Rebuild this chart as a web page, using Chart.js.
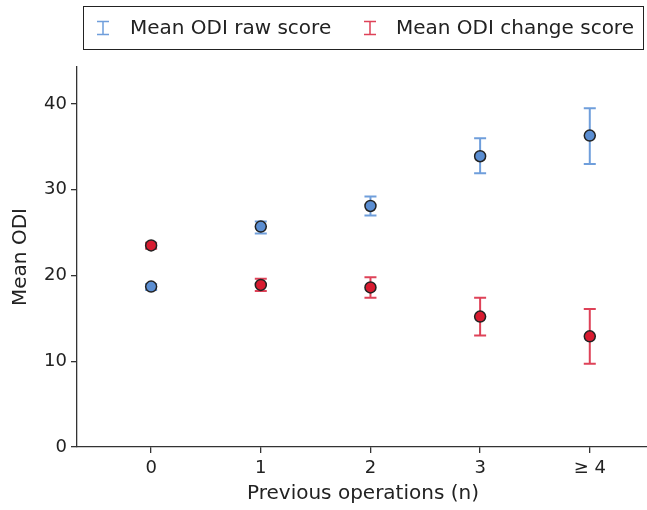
<!DOCTYPE html>
<html>
<head>
<meta charset="utf-8">
<script src="https://cdn.jsdelivr.net/npm/chart.js@4.4.0/dist/chart.umd.min.js"></script>
<style>
  body { margin: 0; background: #fff; overflow: hidden; }
  #wrap { position: relative; width: 647px; height: 510px; overflow: hidden; }
  #legend {
    position: absolute; left: 83px; top: 6px; width: 561px; height: 44px;
    border: 1.5px solid #222; box-sizing: border-box;
    font-family: "DejaVu Sans", sans-serif; font-size: 20px; color: #222;
  }
  #legend span.item { position: absolute; top: 8px; white-space: nowrap; }
  #legend canvas { position: absolute; top: 13px; }
</style>
</head>
<body>
<div id="wrap">
  <canvas id="myChart" width="656" height="510"></canvas>
  <div id="legend">
    <canvas id="icoRaw" width="14" height="16" style="left:12px"></canvas>
    <span class="item" style="left:46px">Mean ODI raw score</span>
    <canvas id="icoChange" width="14" height="16" style="left:279px"></canvas>
    <span class="item" style="left:312px">Mean ODI change score</span>
  </div>
</div>
<script>
const categories = ['0', '1', '2', '3', '\u2265 4'];

const rawMean = [18.7, 25.7, 28.1, 33.9, 36.3];
const rawLow = [18.3, 24.9, 27.0, 31.9, 33.0];
const rawHigh = [19.0, 26.3, 29.2, 36.0, 39.5];

const changeMean = [23.5, 18.9, 18.6, 15.2, 12.9];
const changeLow = [23.1, 18.2, 17.4, 13.0, 9.7];
const changeHigh = [23.8, 19.6, 19.8, 17.4, 16.1];

const yTicks = [0, 10, 20, 30, 40];

const blueFill = '#5b8ed2';
const blueBar = 'rgba(95, 148, 215, 0.9)';
const redFill = '#d81b30';
const redBar = 'rgba(218, 45, 70, 0.9)';
const fontFam = '"DejaVu Sans", sans-serif';

function pts(means) {
    return means.map((v, i) => ({ x: i, y: v }));
}

const data = {
    datasets: [{
        label: 'Mean ODI raw score',
        data: pts(rawMean),
        low: rawLow,
        high: rawHigh,
        barColor: blueBar,
        backgroundColor: blueFill,
        borderColor: '#222',
        borderWidth: 1.5,
        pointRadius: 5.5
    }, {
        label: 'Mean ODI change score',
        data: pts(changeMean),
        low: changeLow,
        high: changeHigh,
        barColor: redBar,
        backgroundColor: redFill,
        borderColor: '#222',
        borderWidth: 1.5,
        pointRadius: 5.5
    }]
};

// error bars drawn under the points
const errorBars = {
    id: 'errorBars',
    beforeDatasetsDraw(chart) {
        const ctx = chart.ctx;
        const xs = chart.scales.x, ys = chart.scales.y;
        chart.data.datasets.forEach(ds => {
            ctx.save();
            ctx.strokeStyle = ds.barColor;
            ctx.lineWidth = 2;
            ds.data.forEach((p, i) => {
                const x = xs.getPixelForValue(p.x);
                const y1 = ys.getPixelForValue(ds.low[i]);
                const y2 = ys.getPixelForValue(ds.high[i]);
                ctx.beginPath();
                ctx.moveTo(x, y1); ctx.lineTo(x, y2);
                ctx.moveTo(x - 6, y1); ctx.lineTo(x + 6, y1);
                ctx.moveTo(x - 6, y2); ctx.lineTo(x + 6, y2);
                ctx.stroke();
            });
            ctx.restore();
        });
    }
};

const options = {
    responsive: false,
    animation: false,
    layout: { padding: { top: 67, right: 0, left: 0, bottom: 0 } },
    plugins: { legend: { display: false }, tooltip: { enabled: false } },
    scales: {
        x: {
            type: 'linear',
            min: -0.676,
            max: 4.54,
            afterBuildTicks: s => { s.ticks = categories.map((c, i) => ({ value: i })); },
            afterFit: s => { s.height = 63; },
            ticks: {
                callback: v => categories[v],
                color: '#222',
                font: { family: fontFam, size: 18 },
                padding: 5
            },
            grid: { drawOnChartArea: false, drawTicks: true, tickLength: 6, color: '#333', lineWidth: 1.3 },
            border: { color: '#333', width: 1.3 },
            title: {
                display: true,
                text: 'Previous operations (n)',
                color: '#222',
                font: { family: fontFam, size: 20 },
                padding: { top: 0, bottom: 4 }
            }
        },
        y: {
            min: 0,
            max: 44.3,
            afterBuildTicks: s => { s.ticks = yTicks.map(v => ({ value: v })); },
            afterFit: s => { s.width = 77; },
            ticks: {
                color: '#222',
                font: { family: fontFam, size: 18 },
                padding: 4
            },
            grid: { drawOnChartArea: false, drawTicks: true, tickLength: 6, color: '#333', lineWidth: 1.3 },
            border: { color: '#333', width: 1.3 },
            title: {
                display: true,
                text: 'Mean ODI',
                color: '#222',
                font: { family: fontFam, size: 20 },
                padding: { top: 9, bottom: 0 }
            }
        }
    }
};

const config = {
    type: 'scatter',
    data,
    options,
    plugins: [errorBars]
};

var myChart = new Chart(document.getElementById('myChart'), config);

// legend icons: small error bar glyphs
function icon(id, color) {
    const c = document.getElementById(id).getContext('2d');
    c.strokeStyle = color;
    c.lineWidth = 1.5;
    c.beginPath();
    c.moveTo(1, 1.5); c.lineTo(13, 1.5);
    c.moveTo(7, 1.5); c.lineTo(7, 14.5);
    c.moveTo(1, 14.5); c.lineTo(13, 14.5);
    c.stroke();
}
icon('icoRaw', blueBar);
icon('icoChange', redBar);
</script>
</body>
</html>
